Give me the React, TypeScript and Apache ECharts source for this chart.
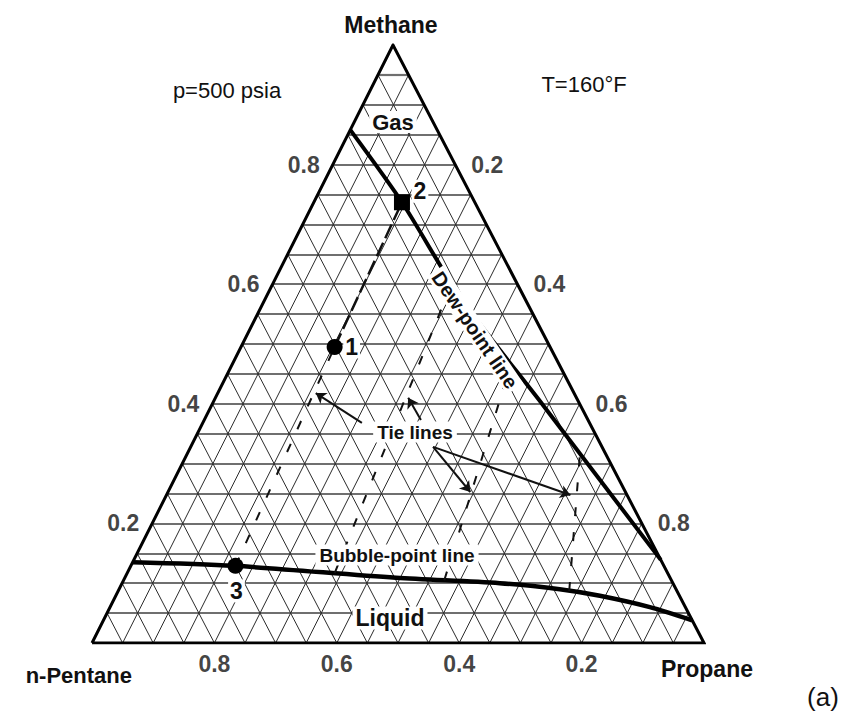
import React, { useEffect, useRef } from "react";
import * as echarts from "echarts";

// ---- data (compositions as [methane, propane]; n-pentane = 1 - methane - propane) ----
const methaneTicks = [0.2, 0.4, 0.6, 0.8];
const propaneTicks = [0.2, 0.4, 0.6, 0.8];
const pentaneTicks = [0.8, 0.6, 0.4, 0.2];
const gridStep = 0.05;

const dewPointLine = [
  [0.858, 0.0],
  [0.737, 0.144],
  [0.574, 0.322],
  [0.398, 0.541],
  [0.139, 0.861],
];
const bubblePointLine = [
  [0.135, 0.0],
  [0.129, 0.169],
  [0.109, 0.443],
  [0.1, 0.617],
  [0.09, 0.72],
  [0.079, 0.791],
  [0.06, 0.882],
  [0.038, 0.962],
];
const tieLiquid = [
  [0.129, 0.171],
  [0.117, 0.339],
  [0.105, 0.524],
  [0.087, 0.737],
];
const tieVapor = [
  [0.737, 0.144],
  [0.602, 0.292],
  [0.467, 0.455],
  [0.318, 0.641],
];
const pointNames = ["1", "2", "3"];
const pointMethane = [0.495, 0.737, 0.129];
const pointPropane = [0.153, 0.144, 0.171];

const arrowFrom = [
  [0.368, 0.26],
  [0.373, 0.354],
  [0.328, 0.396],
  [0.328, 0.396],
];
const arrowTo = [
  [0.418, 0.16],
  [0.41, 0.315],
  [0.2525, 0.494],
  [0.2475, 0.66],
];

// ---- layout ----
const GRID_LEFT = 92;
const GRID_TOP = 45;
const GRID_W = 612;
const GRID_H = 598;
const APEX_X = (393 - GRID_LEFT) / GRID_W; // apex position along the base (scan is slightly skewed)
const FONT = '"Liberation Sans", Arial, Helvetica, sans-serif';

const toXY = (m: number, c: number) => [c + m * APEX_X, m];

export default function App() {
  const ref = useRef<HTMLDivElement>(null);

  useEffect(() => {
    if (!ref.current) return;
    const chart = echarts.init(ref.current, undefined, { renderer: "svg" });

    const n = Math.round(1 / gridStep);
    const hLines: any[] = [];
    const dLines: any[] = [];
    for (let k = 1; k < n; k++) {
      const f = k * gridStep;
      hLines.push({ coords: [toXY(f, 0), toXY(f, 1 - f)] });
      dLines.push({ coords: [toXY(0, f), toXY(1 - f, f)] });
      dLines.push({ coords: [toXY(0, 1 - f), toXY(1 - f, 0)] });
    }

    const triangle = [toXY(0, 0), toXY(0, 1), toXY(1, 0), toXY(0, 0)];

    const tieLower: any[] = [];
    const tieUpper: any[] = [];
    tieLiquid.forEach((l, i) => {
      const v = tieVapor[i];
      if (i === 0) {
        tieLower.push({ coords: [toXY(l[0], l[1]), toXY(pointMethane[0], pointPropane[0])] });
        tieUpper.push({ coords: [toXY(pointMethane[0], pointPropane[0]), toXY(v[0], v[1])] });
      } else {
        tieLower.push({ coords: [toXY(l[0], l[1]), toXY(v[0], v[1])] });
      }
    });

    const arrows = arrowFrom.map((a, i) => ({
      coords: [toXY(a[0], a[1]), toXY(arrowTo[i][0], arrowTo[i][1])],
    }));

    const tickLabel = (offset: number[]) => ({
      show: true,
      position: "inside",
      offset,
      formatter: "{b}",
      fontFamily: FONT,
      fontSize: 23,
      fontWeight: "bold",
      color: "#111",
    });

    const pointOffsets = [
      [17, 0],
      [18, -11],
      [1, 25],
    ];

    const option: any = {
      animation: false,
      backgroundColor: "#ffffff",
      grid: { left: GRID_LEFT, top: GRID_TOP, width: GRID_W, height: GRID_H },
      xAxis: { type: "value", min: 0, max: 1, show: false },
      yAxis: { type: "value", min: 0, max: 1, show: false },
      series: [
        {
          type: "lines",
          coordinateSystem: "cartesian2d",
          silent: true,
          z: 1,
          data: hLines,
          lineStyle: { color: "#6f6f6f", width: 2.2, opacity: 1 },
        },
        {
          type: "lines",
          coordinateSystem: "cartesian2d",
          silent: true,
          z: 2,
          data: dLines,
          lineStyle: { color: "#2b2b2b", width: 1, opacity: 1 },
        },
        {
          type: "lines",
          coordinateSystem: "cartesian2d",
          polyline: true,
          silent: true,
          z: 3,
          data: [{ coords: triangle }],
          lineStyle: { color: "#000", width: 3, opacity: 1, join: "miter" },
        },
        {
          type: "line",
          name: "Dew-point line",
          silent: true,
          z: 4,
          smooth: 0.25,
          symbol: "none",
          data: dewPointLine.map((p) => toXY(p[0], p[1])),
          lineStyle: { color: "#000", width: 4 },
        },
        {
          type: "line",
          name: "Bubble-point line",
          silent: true,
          z: 4,
          smooth: 0.3,
          symbol: "none",
          data: bubblePointLine.map((p) => toXY(p[0], p[1])),
          lineStyle: { color: "#000", width: 4.5 },
        },
        {
          type: "lines",
          coordinateSystem: "cartesian2d",
          silent: true,
          z: 5,
          data: tieLower,
          lineStyle: { color: "#111", width: 2, opacity: 1, type: [9, 16] },
        },
        {
          type: "lines",
          coordinateSystem: "cartesian2d",
          silent: true,
          z: 5,
          data: tieUpper,
          lineStyle: { color: "#111", width: 2.5, opacity: 1, type: [15, 5] },
        },
        {
          type: "lines",
          coordinateSystem: "cartesian2d",
          silent: true,
          z: 6,
          symbol: ["none", "arrow"],
          symbolSize: 10,
          data: arrows,
          lineStyle: { color: "#111", width: 2, opacity: 1 },
        },
        {
          type: "scatter",
          z: 8,
          silent: true,
          data: pointNames.map((nm, i) => ({
            name: nm,
            value: toXY(pointMethane[i], pointPropane[i]),
            symbol: nm === "2" ? "rect" : "circle",
            symbolSize: 16,
            label: {
              show: true,
              position: "inside",
              offset: pointOffsets[i],
              formatter: "{b}",
              fontFamily: FONT,
              fontSize: 23,
              fontWeight: "bold",
              color: "#111",
              backgroundColor: "#fff",
              padding: [0, 2],
            },
          })),
          itemStyle: { color: "#000", opacity: 1 },
        },
        {
          type: "scatter",
          z: 9,
          silent: true,
          symbolSize: 0,
          data: methaneTicks.map((v) => ({ name: v.toFixed(1), value: toXY(v, 0) })),
          label: tickLabel([-29, 0]),
        },
        {
          type: "scatter",
          z: 9,
          silent: true,
          symbolSize: 0,
          data: propaneTicks.map((v) => ({ name: v.toFixed(1), value: toXY(1 - v, v) })),
          label: tickLabel([32, 0]),
        },
        {
          type: "scatter",
          z: 9,
          silent: true,
          symbolSize: 0,
          data: pentaneTicks.map((v) => ({ name: v.toFixed(1), value: toXY(0, 1 - v) })),
          label: tickLabel([0, 21]),
        },
      ],
      graphic: [
        { type: "text", z: 100, x: 391, y: 25, style: { text: "Methane", fontFamily: FONT, fontSize: 23, fontWeight: "bold", fill: "#111", align: "center", verticalAlign: "middle" } },
        { type: "text", z: 100, x: 132, y: 675, style: { text: "n-Pentane", fontFamily: FONT, fontSize: 22, fontWeight: "bold", fill: "#111", align: "right", verticalAlign: "middle" } },
        { type: "text", z: 100, x: 707, y: 669, style: { text: "Propane", fontFamily: FONT, fontSize: 23, fontWeight: "bold", fill: "#111", align: "center", verticalAlign: "middle" } },
        { type: "text", z: 100, x: 227, y: 90, style: { text: "p=500 psia", fontFamily: FONT, fontSize: 22, fill: "#111", align: "center", verticalAlign: "middle" } },
        { type: "text", z: 100, x: 584, y: 84, style: { text: "T=160°F", fontFamily: FONT, fontSize: 22, fill: "#111", align: "center", verticalAlign: "middle" } },
        { type: "text", z: 100, x: 823, y: 697, style: { text: "(a)", fontFamily: FONT, fontSize: 26, fill: "#111", align: "center", verticalAlign: "middle" } },
        { type: "text", z: 100, x: 393, y: 122, style: { text: "Gas", fontFamily: FONT, fontSize: 22, fontWeight: "bold", fill: "#111", align: "center", verticalAlign: "middle", backgroundColor: "#fff", padding: [0, 3] } },
        { type: "text", z: 100, x: 390, y: 618, style: { text: "Liquid", fontFamily: FONT, fontSize: 23, fontWeight: "bold", fill: "#111", align: "center", verticalAlign: "middle", backgroundColor: "#fff", padding: [0, 3] } },
        { type: "text", z: 100, x: 415, y: 432, style: { text: "Tie lines", fontFamily: FONT, fontSize: 19, fontWeight: "bold", fill: "#111", align: "center", verticalAlign: "middle", backgroundColor: "#fff", padding: [1, 4] } },
        { type: "text", z: 100, x: 397, y: 555, style: { text: "Bubble-point line", fontFamily: FONT, fontSize: 19, fontWeight: "bold", fill: "#111", align: "center", verticalAlign: "middle", backgroundColor: "#fff", padding: [1, 4] } },
        { type: "text", z: 100, x: 475, y: 330, rotation: -0.974, style: { text: "Dew-point line", fontFamily: FONT, fontSize: 20, fontWeight: "bold", fill: "#111", align: "center", verticalAlign: "middle", backgroundColor: "#fff", padding: [0, 3] } },
      ],
    };

    chart.setOption(option);
    return () => chart.dispose();
  }, []);

  return (
    <div
      ref={ref}
      style={{ position: "absolute", left: 0, top: 0, width: 845, height: 715, background: "#fff" }}
    />
  );
}
